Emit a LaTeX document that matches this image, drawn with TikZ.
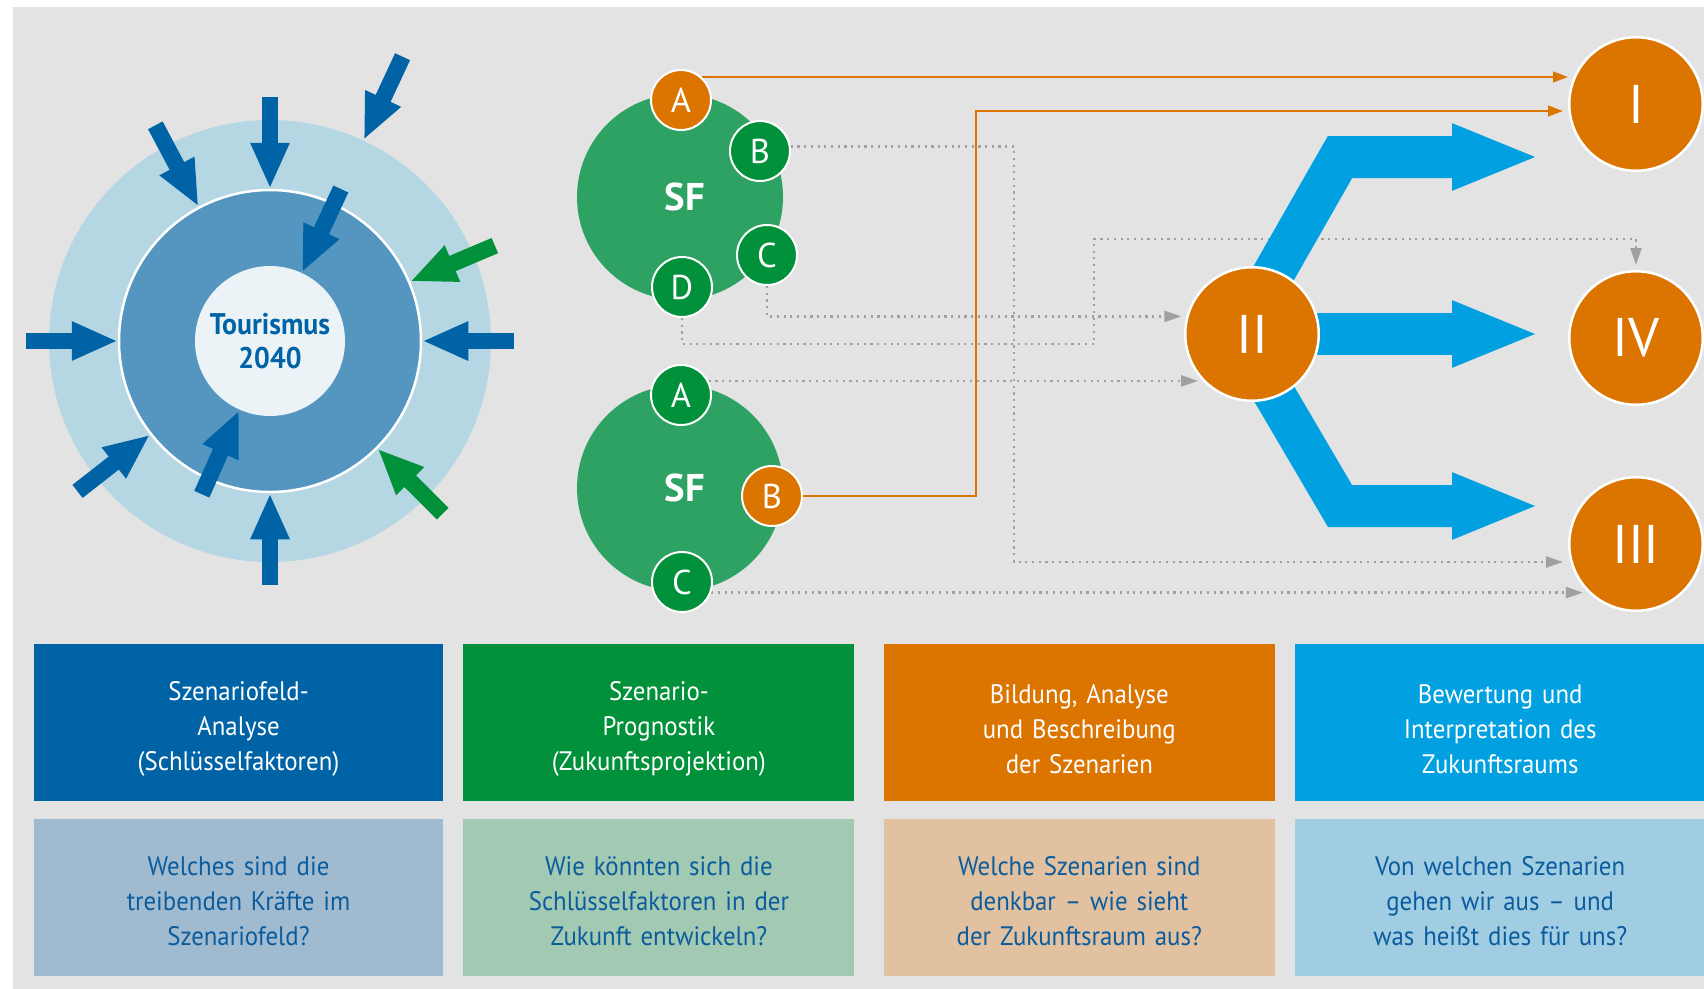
\documentclass[tikz,border=0pt]{standalone}
\usepackage{fontspec}
\setmainfont{PT Sans}
\newfontfamily\narrowfont{PT Sans}[FakeStretch=0.93, WordSpace=0.8]
\usepackage{xcolor}
\usepackage{tikz}
\usetikzlibrary{arrows.meta, positioning, calc, backgrounds}

\definecolor{bggray}{HTML}{E3E3E3}
\definecolor{ringlight}{HTML}{B5D6E3}
\definecolor{ringmid}{HTML}{5496C0}
\definecolor{corewhite}{HTML}{EBF3F7}
\definecolor{darkblue}{HTML}{0063A6}
\definecolor{darkgreen}{HTML}{00913A}
\definecolor{sfgreen}{HTML}{2EA263}
\definecolor{scorange}{HTML}{DC7400}
\definecolor{flowblue}{HTML}{00A0E1}
\definecolor{dotgray}{HTML}{A0A0A0}
\definecolor{qblue}{HTML}{A0BBCF}
\definecolor{qgreen}{HTML}{A2C9B1}
\definecolor{qorange}{HTML}{E1C19F}
\definecolor{qcyan}{HTML}{A1CDE2}
\definecolor{qtext}{HTML}{0B5C9E}

\newcommand{\topgap}{\rule{0pt}{3.2mm}}
\newcommand{\askgap}{\rule{0pt}{2.6mm}}

\begin{document}
\begin{tikzpicture}[x=0.1mm, y=-0.1mm]
  \tikzstyle{ring} = [circle, inner sep=0pt]
  \tikzstyle{force} = [line width=1.65mm, -{Triangle[length=4.6mm, width=3.6mm]}]
  \tikzstyle{field} = [circle, minimum size=20.6mm, inner sep=0pt, fill=sfgreen, text=white, font=\bfseries\fontsize{11}{12}\selectfont]
  \tikzstyle{factor} = [circle, draw=white, line width=0.2mm, minimum size=6mm, inner sep=0pt, fill=darkgreen, text=white, font=\fontsize{9.8}{10}\selectfont]
  \tikzstyle{scenario} = [circle, draw=white, line width=0.25mm, minimum size=13.35mm, inner sep=0pt, fill=scorange, text=white, font=\fontsize{15.5}{16}\selectfont]
  \tikzstyle{link} = [draw=dotgray, line width=0.24mm, dash pattern=on 0.22mm off 0.45mm, -{Triangle[length=1.7mm, width=1.1mm]}, shorten >=0.5mm]
  \tikzstyle{pick} = [draw=scorange, line width=0.25mm, -{Triangle[length=1.5mm, width=1.05mm]}]
  \tikzstyle{flow} = [draw=flowblue, line width=4.2mm, line join=miter, -{Triangle[length=8.8mm, width=6mm]}]
  \tikzstyle{stepbox} = [rectangle, minimum width=39.1mm, minimum height=15.7mm, text width=37mm, align=center, inner sep=0pt,
    font=\narrowfont\fontsize{7.6}{10}\selectfont]

  \useasboundingbox (0,0) rectangle (1704,989);

  % scenario field
  \node[ring, minimum size=44.2mm, fill=ringlight] (ringOut) at (270,341) {};
  \node[ring, minimum size=30.2mm, fill=ringmid, draw=white, line width=0.25mm] (ringMid) at (270,341) {};
  \node[ring, minimum size=15mm, fill=corewhite, text=darkblue, align=center, font=\narrowfont\bfseries\fontsize{8.5}{9.7}\selectfont] (core) at (270,341) {Tourismus\\2040};

  \foreach \ang/\ring/\col in {180/ringMid/darkblue, 0/ringMid/darkblue, 90/ringMid/darkblue, 270/ringMid/darkblue,
      118/ringMid/darkblue, 218/ringMid/darkblue, 65/ringOut/darkblue, 65/core/darkblue, 246/core/darkblue,
      23/ringMid/darkgreen, 315/ringMid/darkgreen}
    \draw[force, \col] ($(\ring.\ang)!-9.2mm!(\ring.center)$) -- (\ring.\ang);

  % key factors
  \node[field] (sfTop) at (680,197) {\hspace{1mm}SF};
  \node[field] (sfBot) at (680,488) {\hspace{1mm}SF};
  \node[factor, fill=scorange] (upA) at (681,100) {A};
  \node[factor] (upB) at (760,151) {B};
  \node[factor] (upC) at (767,255) {C};
  \node[factor] (upD) at (682,287) {D};
  \node[factor] (loA) at (681,395) {A};
  \node[factor, fill=scorange] (loB) at (772,496) {B};
  \node[factor] (loC) at (682,582) {C};

  % scenarios
  \node[scenario] (rI) at (1636,104) {I};
  \node[scenario] (rII) at (1252,334) {II};
  \node[scenario] (rIV) at (1636,338) {IV};
  \node[scenario] (rIII) at (1636,544) {III};

  % steps
  \node[stepbox, minimum width=40.9mm, fill=darkblue, text=white] (stepA) at (238.5,722.5) {\topgap Szenariofeld-\\Analyse\\(Schlüsselfaktoren)};
  \node[stepbox, fill=darkgreen, text=white, right=1.9mm of stepA] (stepB) {\topgap Szenario-\\Prognostik\\(Zukunftsprojektion)};
  \node[stepbox, fill=scorange, text=white, right=2.8mm of stepB] (stepC) {\topgap Bildung, Analyse\\und Beschreibung\\der Szenarien};
  \node[stepbox, minimum width=41mm, fill=flowblue, text=white, right=1.9mm of stepC] (stepD) {\topgap Bewertung und\\Interpretation des\\Zukunftsraums};
  \node[stepbox, minimum width=40.9mm, fill=qblue, text=qtext, below=1.7mm of stepA] (askA) {\askgap Welches sind die\\treibenden Kräfte im\\Szenariofeld?};
  \node[stepbox, fill=qgreen, text=qtext, below=1.7mm of stepB] (askB) {\askgap Wie könnten sich die\\Schlüsselfaktoren in der\\Zukunft entwickeln?};
  \node[stepbox, fill=qorange, text=qtext, below=1.7mm of stepC] (askC) {\askgap Welche Szenarien sind\\denkbar – wie sieht\\der Zukunftsraum aus?};
  \node[stepbox, minimum width=41mm, fill=qcyan, text=qtext, below=1.7mm of stepD] (askD) {\askgap Von welchen Szenarien\\gehen wir aus – und\\was heißt dies für uns?};

  \begin{scope}[on background layer]
    \fill[bggray] (13,7) rectangle (1704,989);

    \coordinate (turnB) at (1014,562);
    \coordinate (turnD1) at (1094,344);
    \coordinate (turnD2) at ($(rIV.north)+(0,-31)$);
    \coordinate (bendB) at (976,111);
    \coordinate (kinkUp) at (1340,157);
    \coordinate (kinkLow) at (1340,506);
    \coordinate (tipUp) at (1540,157);
    \coordinate (tipMid) at (1540,334);
    \coordinate (tipLow) at (1540,506);

    \draw[link] (upB.8) -| (turnB) -- (turnB -| rIII.west);
    \draw[link] (upC.south) |- (rII.165);
    \draw[link] (upD.south) |- (turnD1) |- (turnD2) -- (rIV.north);
    \draw[link] (loA.27) -- (loA.27 -| rII.224);
    \draw[link] (loC.340) -- (loC.340 -| rIII.225);

    \draw[pick] (upA.48) -- (upA.48 -| rI.west);
    \draw[pick, shorten >=0.5mm] (loB.east) -| (bendB) -- (bendB -| rI.west);

    \draw[flow] ([xshift=-1.3mm]rII.center) -- (kinkUp) -- (tipUp);
    \draw[flow] (rII.center) -- (tipMid);
    \draw[flow] ([xshift=-1.3mm]rII.center) -- (kinkLow) -- (tipLow);
  \end{scope}
\end{tikzpicture}
\end{document}
